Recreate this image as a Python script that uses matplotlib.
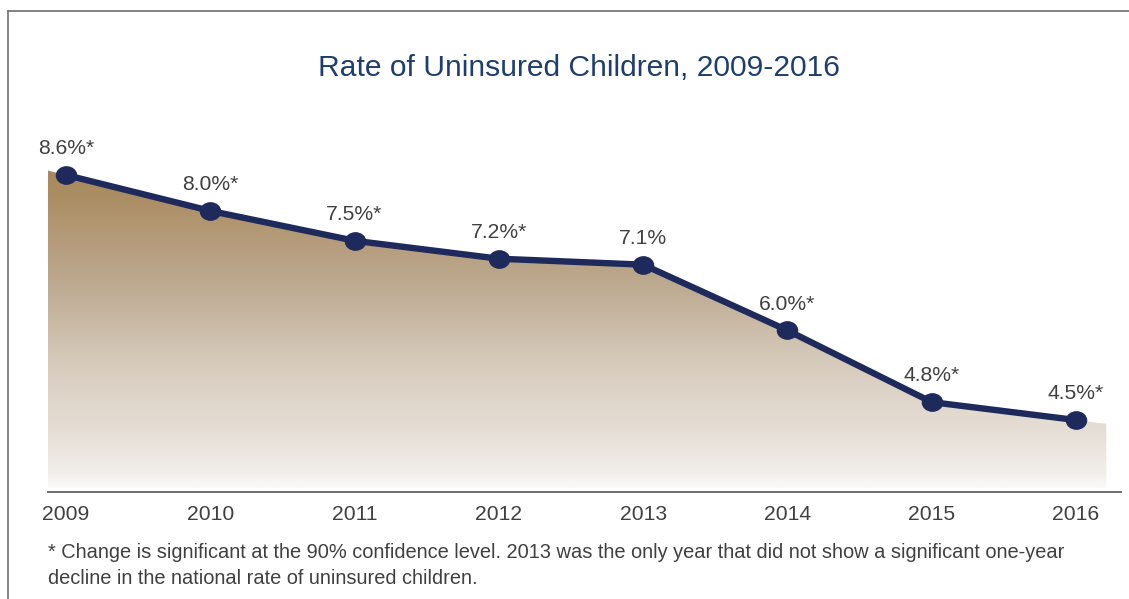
import numpy as np
import matplotlib
matplotlib.use("Agg")
import matplotlib.pyplot as plt
from matplotlib.path import Path
from matplotlib.patches import Polygon
from matplotlib.colors import LinearSegmentedColormap
import matplotlib.transforms as mtransforms

plt.rcParams['font.family'] = ['Liberation Sans', 'DejaVu Sans']

years = ["2009", "2010", "2011", "2012", "2013", "2014", "2015", "2016"]
rates = [8.6, 8.0, 7.5, 7.2, 7.1, 6.0, 4.8, 4.5]
labels = ["8.6%*", "8.0%*", "7.5%*", "7.2%*", "7.1%", "6.0%*", "4.8%*", "4.5%*"]
title = "Rate of Uninsured Children, 2009-2016"
footnote_lines = [
    "* Change is significant at the 90% confidence level. 2013 was the only year that did not show a significant one-year",
    "decline in the national rate of uninsured children.",
]

W, H = 1129, 599
fig = plt.figure(figsize=(W / 100, H / 100), dpi=100)

def fx(px):
    return px / W

def fy(py):
    return 1 - py / H

# frame lines (left + top)
fig.add_artist(plt.Line2D([fx(8), fx(8)], [fy(11), 0], color="#7a7a7a", lw=1.3))
fig.add_artist(plt.Line2D([fx(8), 1], [fy(11), fy(11)], color="#7a7a7a", lw=1.3))

ax_left, ax_right = 48, 1121
ax_top, ax_bot = 100, 492
ax = fig.add_axes([fx(ax_left), fy(ax_bot), (ax_right - ax_left) / W, (ax_bot - ax_top) / H])

x = np.arange(len(years))
xl0, xl1 = -0.1247, 7.312
ax.set_xlim(xl0, xl1)
y_bottom = 3.296
y_top = y_bottom + (ax_bot - ax_top) / 59.76
ax.set_ylim(y_bottom, y_top)

# area polygon, extended slightly beyond end points along the line
fill_left, fill_right = -0.125, 7.21
v_left = rates[0] + (rates[0] - rates[1]) * (-fill_left)
v_right = rates[-1] + (rates[-1] - rates[-2]) * (fill_right - 7)
fill_base = 3.36
px = [fill_left] + list(x) + [fill_right, fill_right, fill_left]
py = [v_left] + list(rates) + [v_right, fill_base, fill_base]
poly = Polygon(np.column_stack([px, py]), closed=True, facecolor="none", edgecolor="none")
ax.add_patch(poly)

cmap = LinearSegmentedColormap.from_list("g", [
    (0.0, "#a98a5e"),
    (0.08, "#ab8d63"),
    (0.38, "#bfac94"),
    (0.6, "#d6cabb"),
    (0.85, "#e8e1d9"),
    (0.95, "#f1eeea"),
    (1.0, "#fbfaf9"),
])
grad = np.linspace(0, 1, 256).reshape(-1, 1)
im = ax.imshow(grad, cmap=cmap, aspect="auto",
               extent=[fill_left, fill_right, fill_base, v_left], origin="upper",
               interpolation="bilinear", zorder=1)
im.set_clip_path(poly)

# ellipse marker
circ = Path.unit_circle()
ell = mtransforms.Affine2D().scale(1.0, 0.86).transform_path(circ)
ax.plot(x, rates, color="#1e2a5c", lw=4.6, zorder=3, solid_capstyle="round")
ax.plot(x, rates, linestyle="none", marker=ell, markersize=14.5, color="#1e2a5c", zorder=4)

for xi, v, lab in zip(x, rates, labels):
    ax.annotate(lab, (xi, v), xytext=(0, 12), textcoords="offset points",
                ha="center", va="bottom", fontsize=15.2, color="#404040", zorder=5)

for s in ["top", "right", "left"]:
    ax.spines[s].set_visible(False)
ax.spines["bottom"].set_color("#6e6e6e")
ax.spines["bottom"].set_linewidth(1.4)
ax.set_yticks([])
ax.set_xticks(x)
ax.set_xticklabels(years, fontsize=15.2, color="#404040")
ax.tick_params(axis="x", length=0, pad=9)
ax.patch.set_alpha(0)

fig.text(fx(579), fy(68), title, ha="center", va="center", fontsize=21.6, color="#1d3e6e")
for i, line in enumerate(footnote_lines):
    fig.text(fx(48), fy(552 + 26 * i), line, ha="left", va="center", fontsize=14.4, color="#404040")

fig.savefig("out.png", dpi=100)
